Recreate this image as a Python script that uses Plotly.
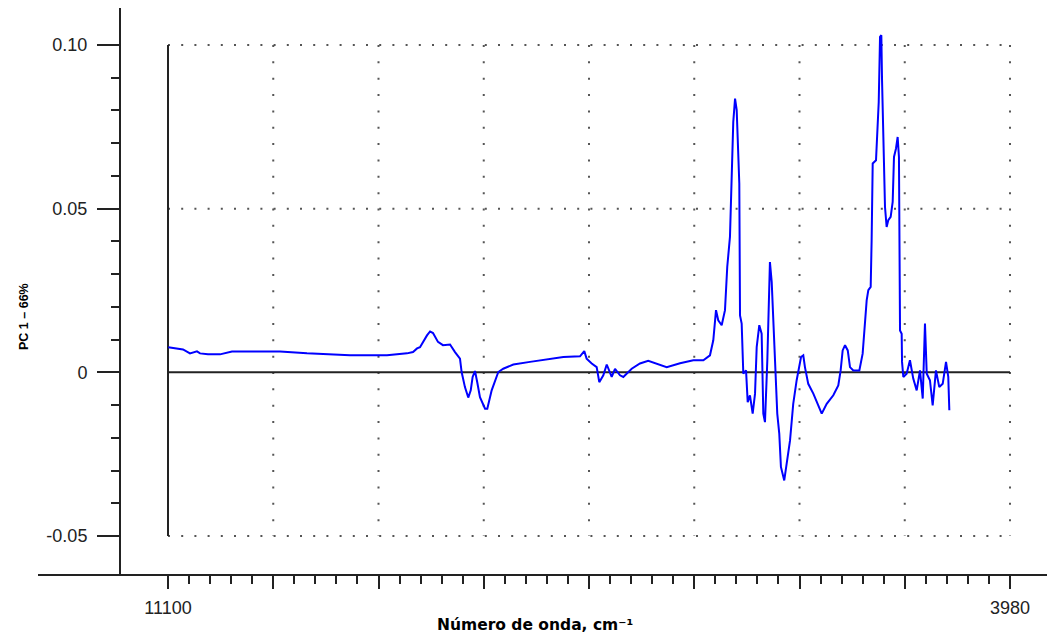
import plotly.graph_objects as go

# ---- data ----
wavenumber = [11098, 10973, 10914, 10855, 10829, 10762, 10660, 10559, 10153, 9925,
              9561, 9248, 9079, 9028, 8994, 8969, 8910, 8884, 8859, 8817,
              8775, 8715, 8673, 8631, 8617, 8589, 8561, 8540, 8524, 8504,
              8485, 8462, 8419, 8400, 8363, 8307, 8265, 8180, 8039, 7898,
              7757, 7616, 7580, 7560, 7517, 7475, 7453, 7419, 7390, 7348,
              7320, 7278, 7250, 7179, 7109, 7039, 6967, 6883, 6770, 6658,
              6573, 6517, 6489, 6466, 6447, 6418, 6390, 6371, 6348, 6333,
              6320, 6305, 6291, 6269, 6263, 6249, 6235, 6212, 6198, 6179,
              6156, 6136, 6122, 6100, 6080, 6066, 6052, 6032, 6018, 6010,
              5995, 5976, 5959, 5948, 5931, 5917, 5889, 5868, 5840, 5813,
              5784, 5747, 5728, 5714, 5686, 5643, 5601, 5572, 5530, 5474,
              5432, 5412, 5395, 5375, 5352, 5333, 5305, 5254, 5226, 5206,
              5192, 5178, 5158, 5150, 5141, 5113, 5102, 5090, 5079, 5068,
              5062, 5051, 5037, 5023, 5009, 4989, 4972, 4961, 4944, 4930,
              4919, 4910, 4896, 4893, 4882, 4854, 4826, 4798, 4769, 4741,
              4718, 4699, 4684, 4657, 4634, 4606, 4578, 4549, 4521, 4502,
              4493]
pc1 = [0.0077, 0.0070, 0.0058, 0.0064, 0.0058, 0.0055, 0.0055, 0.0064, 0.0064, 0.0058,
       0.0052, 0.0052, 0.0058, 0.0062, 0.0073, 0.0077, 0.0113, 0.0125, 0.0120, 0.0093,
       0.0083, 0.0085, 0.0062, 0.0042, 0.0001, -0.0045, -0.0077, -0.0055, -0.0014, 0.0004,
       -0.0030, -0.0076, -0.0111, -0.0111, -0.0055, 0.0001, 0.0011, 0.0024, 0.0032, 0.0039,
       0.0047, 0.0049, 0.0065, 0.0042, 0.0027, 0.0016, -0.0030, -0.0009, 0.0024, -0.0014,
       0.0011, -0.0009, -0.0014, 0.0011, 0.0027, 0.0035, 0.0027, 0.0016, 0.0028, 0.0037,
       0.0037, 0.0052, 0.0098, 0.0190, 0.0159, 0.0144, 0.0190, 0.0322, 0.0414, 0.0617,
       0.0765, 0.0836, 0.0801, 0.0577, 0.0174, 0.0149, -0.0004, 0.0006, -0.0091, -0.0070,
       -0.0126, -0.0065, 0.0077, 0.0144, 0.0118, -0.0126, -0.0152, 0.0037, 0.0271, 0.0337,
       0.0276, 0.0118, -0.0004, -0.0126, -0.0187, -0.0289, -0.0330, -0.0279, -0.0208, -0.0096,
       -0.0024, 0.0047, 0.0052, 0.0016, -0.0035, -0.0065, -0.0101, -0.0126, -0.0096, -0.0070,
       -0.0040, 0.0006, 0.0067, 0.0083, 0.0067, 0.0016, 0.0006, 0.0006, 0.0057, 0.0149,
       0.0220, 0.0251, 0.0261, 0.0403, 0.0638, 0.0648, 0.0750, 0.0826, 0.1025, 0.1030,
       0.0892, 0.0699, 0.0505, 0.0444, 0.0465, 0.0475, 0.0521, 0.0658, 0.0684, 0.0719,
       0.0658, 0.0128, 0.0118, 0.0032, -0.0014, -0.0004, 0.0037, -0.0019, -0.0055, 0.0006,
       -0.0080, 0.0149, -0.0004, -0.0024, -0.0101, 0.0006, -0.0045, -0.0035, 0.0032, -0.0014,
       -0.0116]

x_major = [11100, 10210, 9320, 8430, 7540, 6650, 5760, 4870, 3980]
x_major_text = ["11100", "", "", "", "", "", "", "", "3980"]
x_minor = [v - 178 * k for v in x_major[:-1] for k in range(1, 5)]
y_major = [-0.05, 0, 0.05, 0.10]
y_major_text = ["-0.05", "0", "0.05", "0.10"]
y_minor = [-0.04, -0.03, -0.02, -0.01, 0.01, 0.02, 0.03, 0.04, 0.06, 0.07, 0.08, 0.09]
y_dotted = [0.10, 0.05, -0.05]

x_title = "Número de onda, cm⁻¹"
y_title = "PC 1 – 66%"

W, H = 1047, 635
ML, MR, MT, MB = 121, 0, 8, 60

fig = go.Figure()
fig.add_trace(go.Scatter(x=wavenumber, y=pc1, mode="lines",
                         line=dict(color="#0000ff", width=2), showlegend=False,
                         hoverinfo="skip"))

shapes = []
dot_col = "#555555"
for yv in y_dotted:
    shapes.append(dict(type="line", xref="x", yref="y", x0=x_major[0], x1=x_major[-1],
                       y0=yv, y1=yv, layer="below",
                       line=dict(color=dot_col, width=2, dash="2px,11.2px")))
for xv in x_major[1:]:
    shapes.append(dict(type="line", xref="x", yref="y", x0=xv, x1=xv,
                       y0=y_major[-1], y1=y_major[0], layer="below",
                       line=dict(color=dot_col, width=2, dash="2px,14.35px")))
# solid inner frame lines
shapes.append(dict(type="line", xref="x", yref="y", x0=x_major[0], x1=x_major[0],
                   y0=y_major[0], y1=y_major[-1], layer="below",
                   line=dict(color="#222222", width=2)))
shapes.append(dict(type="line", xref="x", yref="y", x0=x_major[0], x1=x_major[-1],
                   y0=0, y1=0, layer="below",
                   line=dict(color="#222222", width=2)))
# outer bottom axis line, extending left of the y axis
pw = W - ML - MR
shapes.append(dict(type="line", xref="paper", yref="paper", x0=(38 - ML) / pw, x1=1,
                   y0=0, y1=0, line=dict(color="#222222", width=2)))

tick_font = dict(family="Liberation Sans, Arial, sans-serif", size=18, color="#222222")

fig.update_layout(
    width=W, height=H,
    margin=dict(l=ML, r=MR, t=MT, b=MB),
    paper_bgcolor="white", plot_bgcolor="white",
    shapes=shapes,
    xaxis=dict(range=[11497.4, 3667.1], showgrid=False, zeroline=False, showline=False,
               tickmode="array", tickvals=x_major, ticktext=x_major_text,
               ticks="outside", ticklen=13, tickwidth=2, tickcolor="#222222",
               tickfont=tick_font, ticklabelstandoff=3,
               minor=dict(tickmode="array", tickvals=x_minor, ticks="outside",
                          ticklen=8, tickwidth=2, tickcolor="#222222", showgrid=False)),
    yaxis=dict(range=[-0.0619, 0.1113], showgrid=False, zeroline=False, showline=True,
               linecolor="#222222", linewidth=2,
               tickmode="array", tickvals=y_major, ticktext=y_major_text,
               ticks="outside", ticklen=22, tickwidth=2, tickcolor="#222222",
               tickfont=tick_font, ticklabelstandoff=6,
               minor=dict(tickmode="array", tickvals=y_minor, ticks="outside",
                          ticklen=8, tickwidth=2, tickcolor="#222222", showgrid=False)),
    annotations=[
        dict(text="<b>" + x_title + "</b>", xref="paper", yref="paper",
             x=(535 - ML) / pw, y=-(625 - (H - MB)) / (H - MT - MB),
             xanchor="center", yanchor="middle", showarrow=False,
             font=dict(family="DejaVu Sans, sans-serif", size=15.5, color="#000000")),
        dict(text="<b>" + y_title + "</b>", xref="paper", yref="paper",
             x=(24 - ML) / pw, y=((H - MB) - 317) / (H - MT - MB),
             xanchor="center", yanchor="middle", textangle=-90, showarrow=False,
             font=dict(family="Liberation Sans, Arial, sans-serif", size=12.5, color="#000000")),
    ],
)

fig.write_html("out.html", config={"displayModeBar": False})
